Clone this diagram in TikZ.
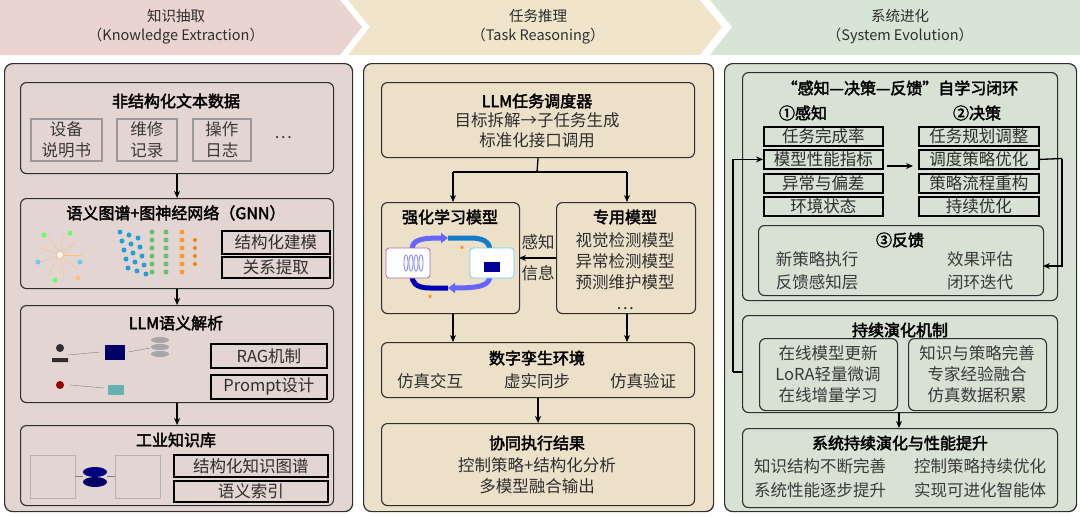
\documentclass[tikz,border=0pt]{standalone}
\usepackage{fontspec}
\setmainfont{Noto Sans CJK SC}[AutoFakeBold=2.5]
\usetikzlibrary{arrows.meta}
\definecolor{hA}{HTML}{E9D4CF}\definecolor{hB}{HTML}{F0E5CB}\definecolor{hC}{HTML}{D6E5D5}
\definecolor{pA}{HTML}{E3D5D1}\definecolor{pB}{HTML}{ECE0C9}\definecolor{pC}{HTML}{D7E1D4}
\definecolor{ink}{HTML}{2E2E2E}\definecolor{itm}{HTML}{3A3A3A}
\tikzset{
 panel/.style={draw=ink,line width=1.2pt,rounded corners=8pt,anchor=north west,inner sep=0},
 box/.style={draw=ink,line width=1.1pt,rounded corners=6pt,anchor=north west,inner sep=0},
 tag/.style={draw=black,line width=1.8pt,anchor=north west,inner sep=0},
 gtag/.style={draw=gray!80,line width=1.8pt,anchor=north west,inner sep=0},
 ttl/.style={font=\fontsize{16}{18}\selectfont\bfseries,text=black,inner sep=0},
 it/.style={font=\fontsize{16.5}{21}\selectfont,text=itm,inner sep=0,align=center},
 hd/.style={font=\fontsize{14.5}{19}\selectfont,align=center,text=ink},
 arr/.style={line width=1.3pt,-{Stealth[length=7pt,width=6pt]},draw=black},
 ln/.style={line width=1.3pt,draw=black},
 dot/.style={circle,inner sep=0,minimum size=#1}
}
\begin{document}
\begin{tikzpicture}[x=1pt,y=-1pt]
\useasboundingbox (0,0) rectangle (1080,515);
% headers
\fill[hA] (0,0)--(340,0)--(362,27)--(340,55)--(0,55)--cycle;
\fill[hB] (348,0)--(700,0)--(722,27)--(700,55)--(348,55)--(370,27)--cycle;
\fill[hC] (710,0)--(1080,0)--(1080,55)--(710,55)--(732,27)--cycle;
\node[hd] (h1) at (176,27) {知识抽取\\（Knowledge Extraction）};
\node[hd] (h2) at (538,27) {任务推理\\（Task Reasoning）};
\node[hd] (h3) at (900,27) {系统进化\\（System Evolution）};
% panels
\node[panel,fill=pA,minimum width=348,minimum height=448] (P1) at (4,63) {};
\node[panel,fill=pB,minimum width=350,minimum height=448] (P2) at (363,63) {};
\node[panel,fill=pC,minimum width=352,minimum height=448] (P3) at (724,63) {};
%%% column 1
\node[box,minimum width=313,minimum height=91] (a1) at (20,82) {};
\node[ttl] (a1t) at (176,101) {非结构化文本数据};
\node[gtag,minimum width=71,minimum height=42] (s1) at (30,118) {};
\node[it] at (s1.center) {设备\\说明书};
\node[gtag,minimum width=60,minimum height=42] (s2) at (116,118) {};
\node[it] at (s2.center) {维修\\记录};
\node[gtag,minimum width=58,minimum height=42] (s3) at (192,118) {};
\node[it] at (s3.center) {操作\\日志};
\node[it] (s4) at (283,138) {…};
\node[box,minimum width=313,minimum height=90] (a2) at (20,198) {};
\node[ttl] (a2t) at (176,213) {语义图谱+图神经网络（GNN）};
\node[tag,minimum width=108,minimum height=23] (g1) at (221,230) {};
\node[it,text=ink] at (g1.center) {结构化建模};
\node[tag,minimum width=108,minimum height=21] (g2) at (221,256) {};
\node[it,text=ink] at (g2.center) {关系提取};
% GNN picture
\foreach \a in {0,40,...,320}{\draw[orange!50,line width=.4pt] (60,255)--++(\a:22);}
\node[dot=7pt,draw=orange!70,fill=white] (gc) at (60,255) {};
\foreach \p/\c in {{(44,235)}/green!60,{(70,233)}/green!60,{(38,262)}/cyan!60,{(80,262)}/cyan!60,{(55,280)}/green!60,{(78,278)}/orange!50}{\node[dot=5pt,fill=\c] at \p {};}
\foreach \i in {0,...,4}{\foreach \j in {0,1,2}{\node[dot=5pt,fill=cyan!70!teal] at (120+\j*9+\i*2,232+\i*9+\j*3) {};}}
\foreach \i in {0,...,5}{\node[dot=5pt,fill=green!60!black!60] at (152,232+\i*8) {};\node[dot=5pt,fill=green!60!black!60] at (166,232+\i*8) {};}
\foreach \i in {0,...,5}{\node[dot=5pt,fill=orange!80] at (182,232+\i*8) {};}
\foreach \i in {0,...,3}{\node[dot=4pt,fill=orange] at (195,240+\i*8) {};}
\draw[arr] (a1) -- (a2);
\node[box,minimum width=313,minimum height=97] (a3) at (20,305) {};
\node[ttl] (a3t) at (176,323) {LLM语义解析};
\node[tag,minimum width=116,minimum height=24] (r1) at (210,343) {};
\node[it,text=ink] at (r1.center) {RAG机制};
\node[tag,minimum width=116,minimum height=24] (r2) at (210,374) {};
\node[it,text=ink] at (r2.center) {Prompt设计};
\fill[ink] (60,348) circle (4) (52,362) rectangle (68,358);
\fill[blue!40!black] (105,345) rectangle (125,360);
\foreach \k in {0,1,2}{\fill[gray!70] (160,340+\k*7) ellipse (9 and 3);}
\fill[red!60!black] (60,385) circle (4);
\fill[teal!60] (108,385) rectangle (124,395);
\draw[gray,line width=.4pt] (68,355)--(100,352) (128,352)--(150,348) (70,385)--(104,388);
\draw[arr] (a2) -- (a3);
\node[box,minimum width=313,minimum height=80] (a4) at (20,425) {};
\node[ttl] (a4t) at (176,440) {工业知识库};
\node[tag,minimum width=154,minimum height=22] (k1) at (173,454) {};
\node[it,text=ink] at (k1.center) {结构化知识图谱};
\node[tag,minimum width=154,minimum height=21] (k2) at (173,480) {};
\node[it,text=ink] at (k2.center) {语义索引};
\draw[gray!60,line width=.5pt] (30,455) rectangle (75,498) (115,455) rectangle (160,498);
\fill[blue!50!black] (95,472) ellipse (12 and 5);
\fill[blue!40!black] (95,482) ellipse (12 and 5);
\draw[gray,line width=.4pt] (75,476)--(83,476) (107,476)--(115,476);
\draw[arr] (a3) -- (a4);
%%% column 2
\node[box,minimum width=313,minimum height=75] (b1) at (381,82) {};
\node[ttl] (b1t) at (537,101) {LLM任务调度器};
\node[it,text=ink] (b1a) at (537,120) {目标拆解→子任务生成};
\node[it,text=ink] (b1b) at (537,140) {标准化接口调用};
\node[box,minimum width=138,minimum height=111] (b2) at (381,202) {};
\node[ttl] (b2t) at (450,217) {强化学习模型};
\node[box,minimum width=139,minimum height=111] (b3) at (556,202) {};
\node[ttl] (b3t) at (625,217) {专用模型};
\node[it,text=ink] (b3a) at (625,271) {视觉检测模型\\异常检测模型\\预测维护模型\\…};
% RL picture
\draw[blue!60,line width=5pt,-{Triangle[length=7pt,width=10pt]}] (412,250) .. controls (412,240) and (420,238) .. (448,238);
\draw[cyan!60!blue,line width=5pt] (448,238) -- (470,238) .. controls (488,238) and (490,245) .. (490,252);
\draw[blue!60,line width=5pt,-{Triangle[length=7pt,width=10pt]}] (490,275) .. controls (490,285) and (482,288) .. (448,288);
\draw[blue!70!black,line width=5pt] (448,288) -- (430,288) .. controls (415,288) and (412,282) .. (412,275);
\draw[violet!60,line width=.8pt,fill=white,rounded corners=3pt] (386,248) rectangle (430,278);
\foreach \k in {0,...,3}{\draw[blue!50,line width=.8pt] (406+\k*5,263) ellipse (2 and 8);}
\draw[cyan!60,line width=.8pt,fill=white,rounded corners=3pt] (470,248) rectangle (514,278);
\fill[blue!60!black] (484,262) rectangle (500,272);
\node[text=orange,font=\tiny] at (462,248) {★};
\node[text=orange,font=\tiny] at (430,297) {★};
\draw[ln] (b1.south) -- (537,172) coordinate (bj);
\coordinate (bl) at (453,172); \coordinate (br) at (627,172);
\draw[ln] (bl) -- (br);
\draw[arr] (bl) -- (453,202);
\draw[arr] (br) -- (627,202);
\draw[arr] (556,258) -- (519,258);
\node[it,text=ink] (lab) at (538,258) {感知\\[10pt]信息};
\node[box,minimum width=313,minimum height=55] (b4) at (381,342) {};
\node[ttl] (b4t) at (537,358) {数字孪生环境};
\node[it,text=ink] (b4a) at (430,381) {仿真交互};
\node[it,text=ink] (b4b) at (537,381) {虚实同步};
\node[it,text=ink] (b4c) at (643,381) {仿真验证};
\draw[arr] (453,313) -- (453,342);
\draw[arr] (627,313) -- (627,342);
\node[box,minimum width=313,minimum height=82] (b5) at (381,423) {};
\node[ttl] (b5t) at (537,443) {协同执行结果};
\node[it,text=ink] (b5a) at (537,465) {控制策略+结构化分析};
\node[it,text=ink] (b5b) at (537,486) {多模型融合输出};
\draw[arr] (b4) -- (b5);
%%% column 3
\node[box,minimum width=315,minimum height=228] (c1) at (742,72) {};
\node[ttl] (c1t) at (900,88) {“感知—决策—反馈”自学习闭环};
\node[ttl] (c1p) at (803,113) {①感知};
\node[ttl] (c1d) at (977,113) {②决策};
\foreach \n/\t/\y in {p1/任务完成率/126,p2/模型性能指标/149,p3/异常与偏差/173,p4/环境状态/196}{
 \node[tag,minimum width=119,minimum height=19] (\n) at (763,\y) {};
 \node[it,text=ink] at (\n.center) {\t};}
\foreach \n/\t/\y in {d1/任务规划调整/126,d2/调度策略优化/149,d3/策略流程重构/173,d4/持续优化/196}{
 \node[tag,minimum width=120,minimum height=19] (\n) at (918,\y) {};
 \node[it,text=ink] at (\n.center) {\t};}
\draw[arr] (887,166) -- (913,166);
\node[box,minimum width=285,minimum height=70] (c2) at (758,225) {};
\node[ttl] (c2t) at (900,240) {③反馈};
\node[it] (c2a) at (817,259) {新策略执行};
\node[it] (c2b) at (980,259) {效果评估};
\node[it] (c2c) at (817,282) {反馈感知层};
\node[it] (c2d) at (980,282) {闭环迭代};
\draw[ln] (d2.east) -- (1062,158.5) coordinate (e1);
\draw[arr] (e1) |- (1043,266);
\node[box,minimum width=315,minimum height=97] (c3) at (742,315) {};
\node[ttl] (c3t) at (900,330) {持续演化机制};
\node[box,minimum width=138,minimum height=72] (c3l) at (759,338) {};
\node[it] (c3la) at (828,374) {在线模型更新\\LoRA轻量微调\\在线增量学习};
\node[box,minimum width=138,minimum height=72] (c3r) at (908,338) {};
\node[it] (c3ra) at (977,374) {知识与策略完善\\专家经验融合\\仿真数据积累};
\coordinate (f1) at (733,372);
\draw[ln] (742,372) -- (f1);
\draw[arr] (f1) |- (p2.west);
\node[box,minimum width=315,minimum height=79] (c4) at (742,428) {};
\node[ttl] (c4t) at (900,443) {系统持续演化与性能提升};
\node[it] (c4a) at (820,466) {知识结构不断完善};
\node[it] (c4b) at (980,466) {控制策略持续优化};
\node[it] (c4c) at (820,490) {系统性能逐步提升};
\node[it] (c4d) at (980,490) {实现可进化智能体};
\draw[arr] (899,412) -- (899,428);
\end{tikzpicture}
\end{document}
